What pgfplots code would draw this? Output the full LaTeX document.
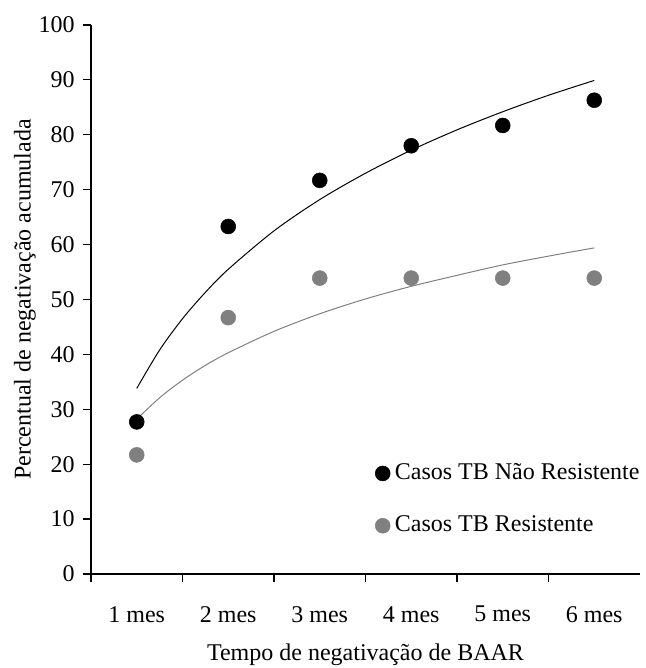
\documentclass[border=0pt]{standalone}
\usepackage{fontspec}
\setmainfont{Liberation Serif}
\usepackage{pgfplots}
\pgfplotsset{compat=1.18}

\definecolor{grayser}{RGB}{128,128,128}

\begin{document}
\fontsize{18}{21.6}\selectfont
\begin{tikzpicture}
\begin{axis}[
    name=ax,
    scale only axis,
    width=411.75pt, height=411.75pt,
    xmin=0, xmax=6,
    ymin=0, ymax=100,
    axis x line=bottom, axis y line=left,
    axis line style={-, line width=0.9pt},
    tick style={line width=0.9pt, black},
    tick align=outside,
    major tick length=6pt,
    xtick={0,1,2,3,4,5},
    xticklabels={},
    extra x ticks={0.5,1.5,2.5,3.5,4.5,5.5},
    extra x tick labels={1 mes,2 mes,3 mes,4 mes,5 mes,6 mes},
    extra x tick style={major tick length=0pt, xticklabel style={yshift=-18pt}},
    ytick={0,10,...,100},
    /pgf/number format/assume math mode=true,
    ticklabel style={font=\fontsize{18}{21.6}\selectfont},
    xlabel={Tempo de negativação de BAAR},
    ylabel={Percentual de negativação acumulada},
    xlabel style={yshift=2pt},
    ylabel style={yshift=-10pt},
    legend style={draw=none, fill=none, at={(rel axis cs:0.51,0.215)}, anchor=north west,
        font=\fontsize{18}{21.6}\selectfont, row sep=17.5pt,
        legend cell align=left},
    legend image code/.code={\draw[#1] plot coordinates {(0.2cm,0cm)};},
    legend style={nodes={inner sep=3.5pt}},
    clip=false,
]
% trend lines (logarithmic fit)
\addplot[black, line width=0.75pt, smooth, forget plot] coordinates {
 (0.5,33.8) (0.75,40.8) (1.0,46.5) (1.25,51.3) (1.5,55.5) (2.0,62.5) (2.5,68.2)
 (3.0,73.0) (3.5,77.2) (4.0,80.9) (4.5,84.2) (5.0,87.2) (5.5,89.9)};
\addplot[grayser, line width=0.75pt, smooth, forget plot] coordinates {
 (0.5,28.2) (0.75,32.1) (1.0,35.3) (1.25,38.0) (1.5,40.3) (2.0,44.2) (2.5,47.4)
 (3.0,50.1) (3.5,52.4) (4.0,54.4) (4.5,56.3) (5.0,57.9) (5.5,59.4)};

\addplot[only marks, mark=*, mark size=5.6pt, black, mark options={draw=black, fill=black}] coordinates {
 (0.5,27.7) (1.5,63.3) (2.5,71.7) (3.5,78.0) (4.5,81.7) (5.5,86.3)};
\addlegendentry{Casos TB Não Resistente}
\addplot[only marks, mark=*, mark size=5.6pt, grayser, mark options={draw=grayser, fill=grayser}] coordinates {
 (0.5,21.7) (1.5,46.7) (2.5,53.9) (3.5,53.9) (4.5,53.9) (5.5,53.9)};
\addlegendentry{Casos TB Resistente}
\end{axis}
\pgfresetboundingbox
\path[use as bounding box] ([xshift=-68.25pt,yshift=-70.5pt]ax.south west)
  rectangle ([xshift=4.5pt,yshift=18.75pt]ax.north east);
\end{tikzpicture}
\end{document}
